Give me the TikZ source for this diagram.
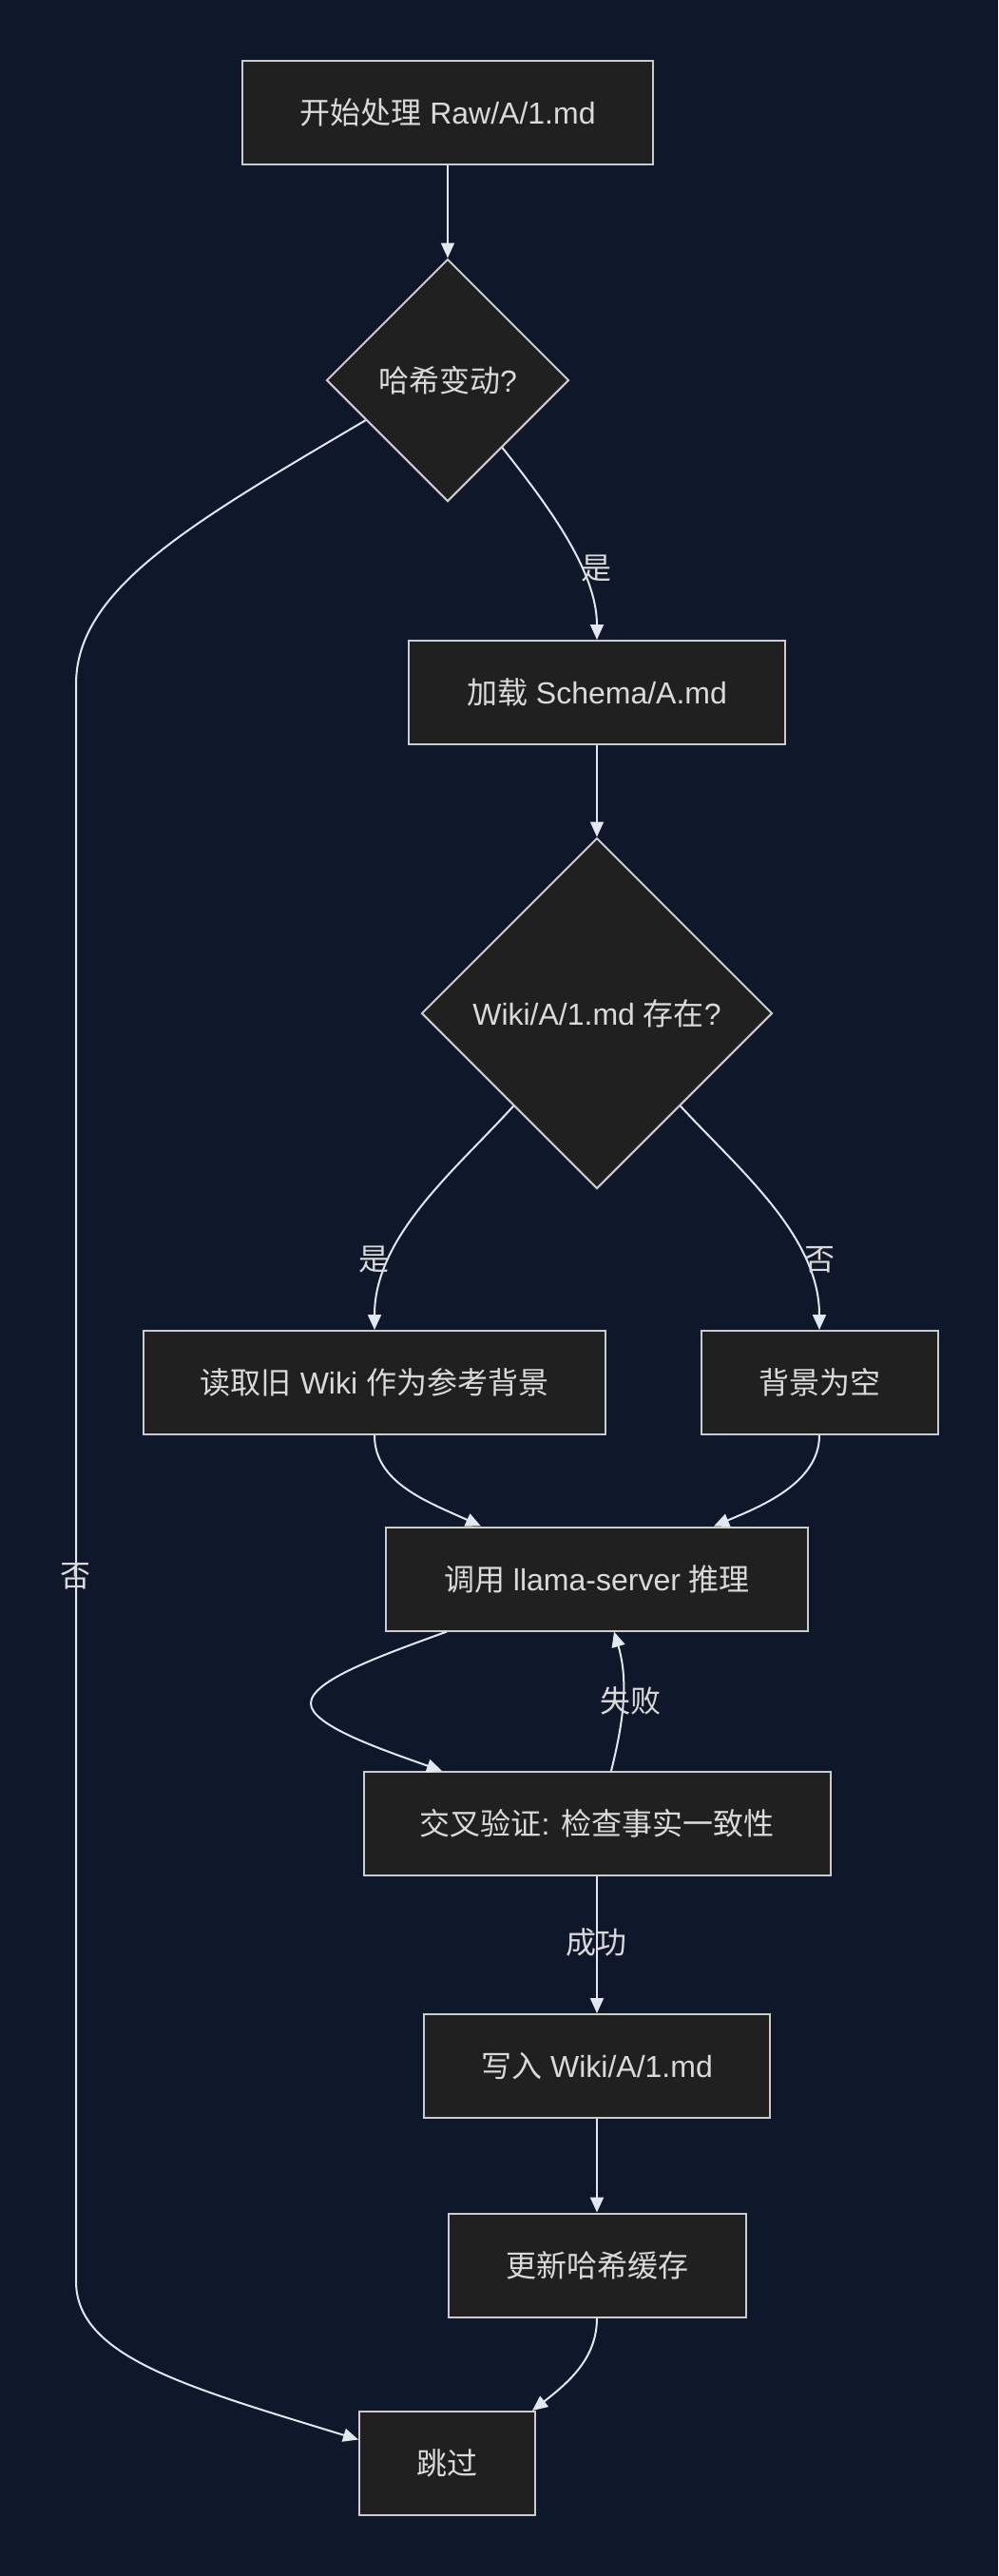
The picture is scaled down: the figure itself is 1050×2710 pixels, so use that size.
\documentclass[tikz,border=0pt]{standalone}
\usepackage{fontspec}
\setmainfont{Liberation Sans}
\newfontfamily\cjkfont{Noto Sans CJK SC}
\newcommand\zh[1]{{\cjkfont #1}}
\usetikzlibrary{shapes.geometric,arrows.meta}
\definecolor{bgcol}{RGB}{15,23,42}
\definecolor{nodefill}{RGB}{32,32,32}
\definecolor{bordercol}{RGB}{204,204,204}
\definecolor{textcol}{RGB}{218,218,218}
\definecolor{edgecol}{RGB}{226,232,240}
\tikzset{
  box/.style={draw=bordercol, fill=nodefill, line width=2pt, minimum height=109pt, inner sep=0pt, text=textcol, font=\fontsize{32}{38}\selectfont},
  dia/.style={diamond, aspect=1, draw=bordercol, fill=nodefill, line width=2pt, inner sep=0pt, text=textcol, font=\fontsize{32}{38}\selectfont},
  edge/.style={draw=edgecol, line width=2pt, -{Triangle[length=16pt,width=14pt]}},
  elabel/.style={text=textcol, font=\fontsize{32}{38}\selectfont, inner sep=0pt}
}
\begin{document}
\begin{tikzpicture}[x=1pt,y=-1pt]
\fill[bgcol] (0,0) rectangle (1050,2710);
\useasboundingbox (0,0) rectangle (1050,2710);

\node[box, minimum width=432pt] (start) at (471,118) {\zh{开始处理} Raw/A/1.md};
\node[dia, minimum width=255pt, minimum height=255pt] (d1) at (471,400) {\zh{哈希变动}?};
\node[box, minimum width=396pt] (schema) at (628,728.5) {\zh{加载} Schema/A.md};
\node[dia, minimum width=369pt, minimum height=369pt] (d2) at (628,1066) {Wiki/A/1.md \zh{存在}?};
\node[box, minimum width=486pt] (read) at (394,1454.5) {\zh{读取旧} Wiki \zh{作为参考背景}};
\node[box, minimum width=249pt] (empty) at (862,1454.5) {\zh{背景为空}};
\node[box, minimum width=444pt] (llama) at (628,1661) {\zh{调用} llama-server \zh{推理}};
\node[box, minimum width=491pt] (cross) at (628,1918.5) {\zh{交叉验证}: \zh{检查事实一致性}};
\node[box, minimum width=364pt] (write) at (628,2173.5) {\zh{写入} Wiki/A/1.md};
\node[box, minimum width=313pt] (update) at (628,2383) {\zh{更新哈希缓存}};
\node[box, minimum width=185pt] (skip) at (470.5,2591.5) {\zh{跳过}};

% edges
\draw[edge] (start.south) -- (d1.north);
\draw[edge] (d1.-51) .. controls (575,530) and (628,600) .. (schema.north);
\draw[edge] (d1.206) .. controls (200,551) and (80,620) .. (80,720) -- (80,2400) .. controls (80,2480) and (200,2512) .. ([yshift=25pt]skip.west);
\draw[edge] (schema.south) -- (d2.north);
\draw[edge] (d2.228) .. controls (480,1230) and (394,1300) .. (read.north);
\draw[edge] (d2.-48) .. controls (777,1230) and (862,1300) .. (empty.north);
\draw[edge] (read.south) .. controls (394,1560) and (450,1580) .. ([xshift=-122pt]llama.north);
\draw[edge] (empty.south) .. controls (862,1560) and (800,1585) .. ([xshift=123pt]llama.north);
\draw[edge] ([xshift=-158pt]llama.south) .. controls (400,1742) and (327,1768) .. (327,1792) .. controls (327,1815) and (400,1840) .. ([xshift=-163pt]cross.north);
\draw[edge] ([xshift=15pt]cross.north) .. controls (655,1815) and (662,1770) .. ([xshift=18pt]llama.south);
\draw[edge] (cross.south) -- (write.north);
\draw[edge] (write.south) -- (update.north);
\draw[edge] (update.south) .. controls (628,2480) and (600,2505) .. ([xshift=-4pt]skip.north east);

% edge labels
\node[elabel] (l1) at (627.5,598) {\zh{是}};
\node[elabel] (l2) at (79.5,1658) {\zh{否}};
\node[elabel] (l3) at (393.5,1325) {\zh{是}};
\node[elabel] (l4) at (862,1325) {\zh{否}};
\node[elabel] (l5) at (663.5,1789) {\zh{失败}};
\node[elabel] (l6) at (627,2043) {\zh{成功}};
\end{tikzpicture}
\end{document}
